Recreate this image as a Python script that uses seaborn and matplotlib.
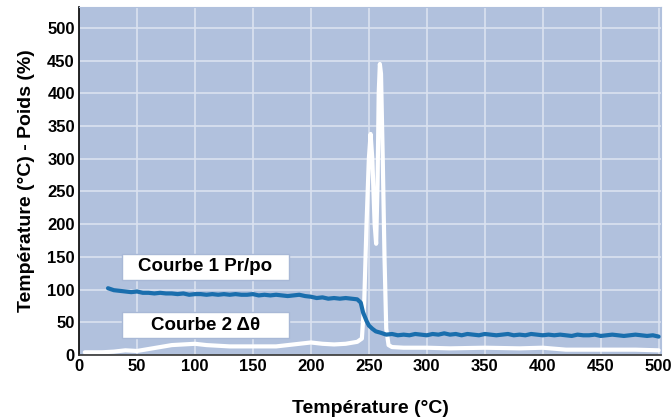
import matplotlib
matplotlib.use("Agg")
import matplotlib.pyplot as plt
import seaborn as sns
import pandas as pd
from matplotlib.patches import Rectangle

# Courbe 1 : Pr/po (%) vs température
temp_pr = [25, 30, 35, 40, 45, 50, 55, 60, 65, 70, 75, 80, 85, 90, 95, 100,
           105, 110, 115, 120, 125, 130, 135, 140, 145, 150, 155, 160, 165, 170,
           175, 180, 185, 190, 195, 200, 205, 210, 215, 220, 225, 230, 235, 240,
           243, 245, 248, 250, 253, 256, 260, 265, 270, 275, 280, 285, 290, 295,
           300, 305, 310, 315, 320, 325, 330, 335, 340, 345, 350, 355, 360, 365,
           370, 375, 380, 385, 390, 395, 400, 405, 410, 415, 420, 425, 430, 435,
           440, 445, 450, 455, 460, 465, 470, 475, 480, 485, 490, 495, 500]
pr_po = [102, 99, 98, 97, 96, 97, 95, 95, 94, 95, 94, 94, 93, 94, 92, 93,
         93, 92, 93, 92, 93, 92, 93, 92, 92, 93, 91, 92, 91, 92,
         91, 90, 91, 92, 90, 89, 87, 88, 86, 87, 86, 87, 86, 85,
         80, 65, 52, 45, 40, 36, 34, 31, 32, 30, 31, 30, 32, 31,
         30, 32, 31, 33, 31, 32, 30, 32, 31, 30, 32, 31, 30, 31,
         32, 30, 31, 30, 32, 31, 30, 31, 30, 31, 30, 29, 31, 30,
         30, 31, 29, 30, 31, 30, 29, 30, 31, 30, 29, 30, 28]

# Courbe 2 : delta theta
temp_dt = [5, 20, 30, 40, 50, 60, 70, 80, 90, 100, 110, 120, 130, 140, 150,
           160, 170, 180, 190, 200, 210, 220, 230, 240, 244, 246, 248, 250,
           251.5, 253, 255, 256.3, 257.5, 258.5, 259.5, 260.5, 262, 263.5,
           265, 267, 270, 280, 300, 320, 350, 380, 400, 420, 450, 480, 500]
delta_theta = [4, 4, 5, 7, 6, 9, 12, 15, 16, 17, 15, 14, 13, 13, 13,
               13, 13, 15, 17, 19, 17, 16, 17, 20, 25, 80, 200, 300,
               338, 300, 200, 170, 260, 400, 445, 430, 300, 150,
               40, 15, 12, 11, 11, 10, 11, 10, 11, 8, 8, 8, 7]

x_ticks = list(range(0, 501, 50))
y_ticks = list(range(0, 501, 50))

sns.set_style("whitegrid", {"axes.facecolor": "#b1c1dd",
                            "grid.color": "#dbe2f0",
                            "axes.edgecolor": "#b1c1dd",
                            "text.color": "black",
                            "axes.labelcolor": "black",
                            "xtick.color": "black",
                            "ytick.color": "black"})
plt.rcParams["font.family"] = ["Liberation Sans", "DejaVu Sans"]

fig = plt.figure(figsize=(6.72, 4.2), dpi=100)
ax = fig.add_axes([0.1176, 0.155, 0.866, 0.828])

df1 = pd.DataFrame({"t": temp_pr, "v": pr_po})
df2 = pd.DataFrame({"t": temp_dt, "v": delta_theta})
sns.lineplot(data=df2, x="t", y="v", ax=ax, color="white", linewidth=3)
sns.lineplot(data=df1, x="t", y="v", ax=ax, color="#1a6ead", linewidth=3)

ax.set_xlim(0, 502)
ax.set_ylim(0, 532)
ax.set_xticks(x_ticks)
ax.set_yticks(y_ticks)
ax.grid(True, linewidth=1.2)
ax.tick_params(length=0, labelsize=12, pad=3)
for lab in ax.get_xticklabels() + ax.get_yticklabels():
    lab.set_fontweight("bold")
ax.spines["left"].set_color("black")
ax.spines["left"].set_linewidth(1.2)
ax.spines["bottom"].set_color("#333333")
ax.spines["bottom"].set_linewidth(1.2)

ax.set_xlabel("Température (°C)", fontsize=14, fontweight="bold", labelpad=19)
ax.set_ylabel("Température (°C) - Poids (%)", fontsize=14, fontweight="bold", labelpad=9)

# étiquettes des courbes
for (y0, y1, txt) in [(115, 154, "Courbe 1 Pr/po"), (26, 65, "Courbe 2 Δθ")]:
    ax.add_patch(Rectangle((37, y0), 144, y1 - y0, facecolor="white",
                           edgecolor="#a8b8d6", linewidth=1, zorder=5))
    ax.text(109, (y0 + y1) / 2, txt, ha="center", va="center",
            fontsize=13.5, fontweight="bold", zorder=6)

fig.savefig("out.png", dpi=100)
